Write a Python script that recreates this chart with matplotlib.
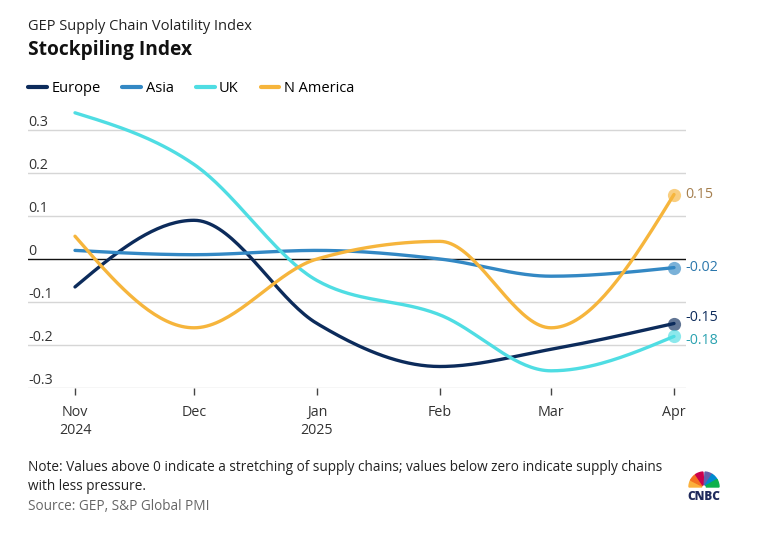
import numpy as np
import matplotlib
matplotlib.use("Agg")
import matplotlib.pyplot as plt
import matplotlib.dates as mdates
from matplotlib.patches import Wedge
from datetime import datetime

plt.rcParams['font.family'] = ['Open Sans', 'DejaVu Sans']

months = ["2024-11-01", "2024-12-01", "2025-01-01", "2025-02-01", "2025-03-01", "2025-04-01"]
tick_labels = ["Nov\n2024", "Dec", "Jan\n2025", "Feb", "Mar", "Apr"]
europe = [-0.065, 0.09, -0.15, -0.25, -0.21, -0.15]
asia = [0.02, 0.01, 0.02, 0.0, -0.04, -0.02]
uk = [0.34, 0.22, -0.05, -0.13, -0.26, -0.18]
n_america = [0.053, -0.16, 0.0, 0.041, -0.16, 0.15]
end_labels = ["-0.15", "-0.02", "-0.18", "0.15"]
yticks = [-0.3, -0.2, -0.1, 0, 0.1, 0.2, 0.3]
ytick_labels = ["-0.3", "-0.2", "-0.1", "0", "0.1", "0.2", "0.3"]

series = [
    ("Europe", europe, "#0c2b5b", "#0c2b5b", 4),
    ("Asia", asia, "#3388c4", "#2b77ac", 0),
    ("UK", uk, "#4fdde3", "#2aa2b0", -3),
    ("N America", n_america, "#f6b53c", "#a57f4e", 0),
]


def monotone_x(x, y, n=40):
    x = np.asarray(x, float); y = np.asarray(y, float)
    h = np.diff(x); s = np.diff(y) / h
    m = len(x)
    t = np.zeros(m)
    for i in range(1, m - 1):
        s0, s1, h0, h1 = s[i - 1], s[i], h[i - 1], h[i]
        p = (s0 * h1 + s1 * h0) / (h0 + h1)
        t[i] = (np.sign(s0) + np.sign(s1)) * min(abs(s0), abs(s1), 0.5 * abs(p))
    t[0] = (3 * s[0] - t[1]) / 2
    t[-1] = (3 * s[-1] - t[-2]) / 2
    xs, ys = [], []
    for i in range(m - 1):
        u = np.linspace(0, 1, n)
        x0, x1 = x[i], x[i + 1]; y0, y1 = y[i], y[i + 1]
        dx = (x1 - x0) / 3
        cx = [x0, x0 + dx, x1 - dx, x1]
        cy = [y0, y0 + dx * t[i], y1 - dx * t[i + 1], y1]
        b = [(1 - u) ** 3, 3 * u * (1 - u) ** 2, 3 * u ** 2 * (1 - u), u ** 3]
        xs.append(sum(bb * c for bb, c in zip(b, cx)))
        ys.append(sum(bb * c for bb, c in zip(b, cy)))
    return np.concatenate(xs), np.concatenate(ys)


W, H = 769, 543
fig = plt.figure(figsize=(W / 100, H / 100), dpi=100)

left_px, right_px, top_px, bot_px = 28, 686, 105, 388
ax = fig.add_axes([left_px / W, 1 - bot_px / H, (right_px - left_px) / W, (bot_px - top_px) / H])

dates = [datetime.strptime(d, "%Y-%m-%d") for d in months]
xn = mdates.date2num(dates)
px_per_day = (674 - 75) / (xn[-1] - xn[0])
ax.set_xlim(xn[0] - (75 - left_px) / px_per_day, xn[-1] + (right_px - 674) / px_per_day)
ytop = 0.3 + (130 - top_px) / 430
ax.set_ylim(-0.3, ytop)

for v, lab in zip(yticks, ytick_labels):
    if v == 0:
        ax.axhline(0, color="#111111", lw=1.0, zorder=2)
    else:
        ax.axhline(v, color="#d6d6d6", lw=1.0, zorder=1)
    ax.annotate(lab, xy=(0, v), xycoords=("axes fraction", "data"),
                xytext=(0, 0), textcoords="offset points", ha="left", va="bottom",
                fontsize=10.3, color="#333333")

for sp in ax.spines.values():
    sp.set_visible(False)
ax.set_yticks([])
ax.set_xticks(xn)
ax.set_xticklabels(tick_labels, fontsize=10.3, color="#333333", linespacing=1.2)
ax.tick_params(axis="x", length=5, width=1, color="#444444", pad=7.5)

lines = []
for (name, vals, col, tcol, dy), lab in zip(series, end_labels):
    sx, sy = monotone_x(xn, vals)
    ln, = ax.plot(sx, sy, color=col, lw=2.4, label=name, zorder=3, solid_capstyle="round")
    lines.append(ln)
    ax.plot([xn[-1]], [vals[-1]], "o", ms=9.5, color=col, alpha=0.65, mec="none", zorder=4, clip_on=False)
    ax.annotate(lab, xy=(xn[-1], vals[-1]), xytext=(8, dy), textcoords="offset points",
                ha="left", va="center", fontsize=10.3, color=tcol, annotation_clip=False)

fig.legend(handles=lines, loc="center left", bbox_to_anchor=(28 / W, 1 - 89 / H), ncol=4,
           frameon=False, fontsize=10.5, handlelength=1.3, handletextpad=0.3, columnspacing=1.5,
           borderaxespad=0, borderpad=0)
for lh in fig.legends[0].get_lines():
    lh.set_linewidth(3)

fig.text(28 / W, 1 - 26 / H, "GEP Supply Chain Volatility Index", fontsize=10.5, color="#222222",
         ha="left", va="center")
fig.text(28 / W, 1 - 49.5 / H, "Stockpiling Index", fontsize=13.8, fontweight="bold", color="#111111",
         ha="left", va="center")
fig.text(28 / W, 1 - 477 / H,
         "Note: Values above 0 indicate a stretching of supply chains; values below zero indicate supply chains\nwith less pressure.",
         fontsize=9.85, color="#222222", ha="left", va="center", linespacing=1.3)
fig.text(28 / W, 1 - 506 / H, "Source: GEP, S&P Global PMI", fontsize=9.85, color="#666666",
         ha="left", va="center")

# CNBC peacock logo
lax = fig.add_axes([684 / W, 1 - 502 / H, 40 / W, 36 / H])
lax.set_xlim(0, 40); lax.set_ylim(0, 36)
lax.axis("off")
cx, cy = 20, 15
feathers = ["#fbb03b", "#f37021", "#cc004c", "#6460aa", "#0089d0", "#0db14b"]
angs = [(150, 180), (123, 153), (94, 124), (56, 86), (27, 57), (0, 30)]
for c, (a0, a1) in zip(feathers, angs):
    lax.add_patch(Wedge((cx, cy), 15, a0, a1, width=12.5, color=c))
lax.text(20, 5, "CNBC", ha="center", va="center", fontsize=8.5, fontweight="heavy", color="#1f2a5c")

fig.savefig("out.png", dpi=100, facecolor="white")
